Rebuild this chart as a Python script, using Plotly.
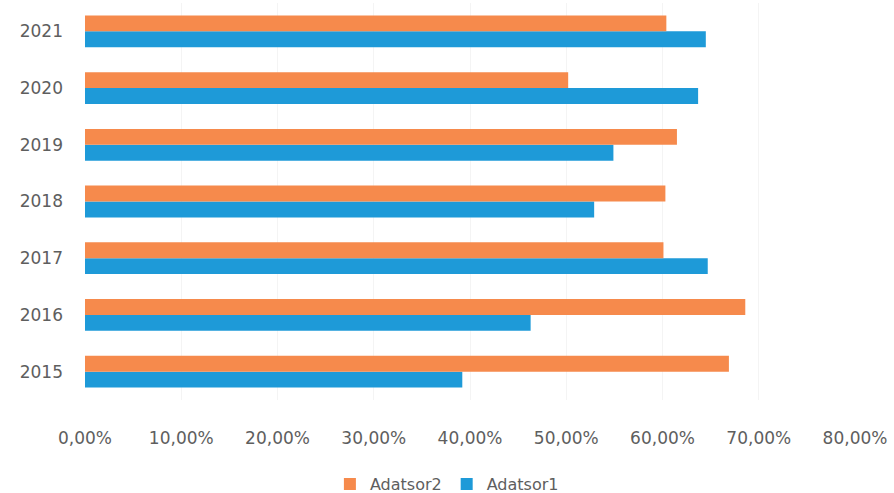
import plotly.graph_objects as go

years = ["2015", "2016", "2017", "2018", "2019", "2020", "2021"]
adatsor1 = [0.392, 0.463, 0.647, 0.529, 0.549, 0.637, 0.645]
adatsor2 = [0.669, 0.686, 0.601, 0.603, 0.615, 0.502, 0.604]
x_ticks = [0, 0.1, 0.2, 0.3, 0.4, 0.5, 0.6, 0.7, 0.8]

FONT = "DejaVu Sans"
GRAY = "#5e5e5e"

fig = go.Figure()
fig.add_trace(go.Bar(y=years, x=adatsor1, orientation="h", name="Adatsor1",
                     marker=dict(color="#1E9AD8", line=dict(width=0))))
fig.add_trace(go.Bar(y=years, x=adatsor2, orientation="h", name="Adatsor2",
                     marker=dict(color="#F68A4C", line=dict(width=0))))

fig.update_layout(
    width=894, height=493,
    margin=dict(l=85, r=39, t=3, b=93, autoexpand=False),
    paper_bgcolor="white", plot_bgcolor="white",
    barmode="group", bargap=0.44, bargroupgap=0,
    separators=", ",
    font=dict(family=FONT, size=16, color=GRAY),
    showlegend=True,
    legend=dict(orientation="h", traceorder="reversed",
                x=0.47, xanchor="center", y=-0.212, yanchor="middle",
                font=dict(family=FONT, size=16, color=GRAY),
                itemwidth=30),
    xaxis=dict(range=[0, 0.8], tickvals=x_ticks, tickformat=".2%",
               showgrid=True, gridcolor="#f4f4f4", gridwidth=1,
               zeroline=False, showline=False, ticks="",
               ticklabelstandoff=26, automargin=False,
               tickfont=dict(family=FONT, size=17, color=GRAY)),
    yaxis=dict(type="category", categoryorder="array", categoryarray=years,
               showgrid=False, zeroline=False, showline=False, ticks="",
               ticklabelstandoff=21, automargin=False,
               tickfont=dict(family=FONT, size=17, color=GRAY)),
)

fig.write_html("out.html", config={"displayModeBar": False},
               post_script="document.body.style.margin='0';document.body.style.overflow='hidden';")
